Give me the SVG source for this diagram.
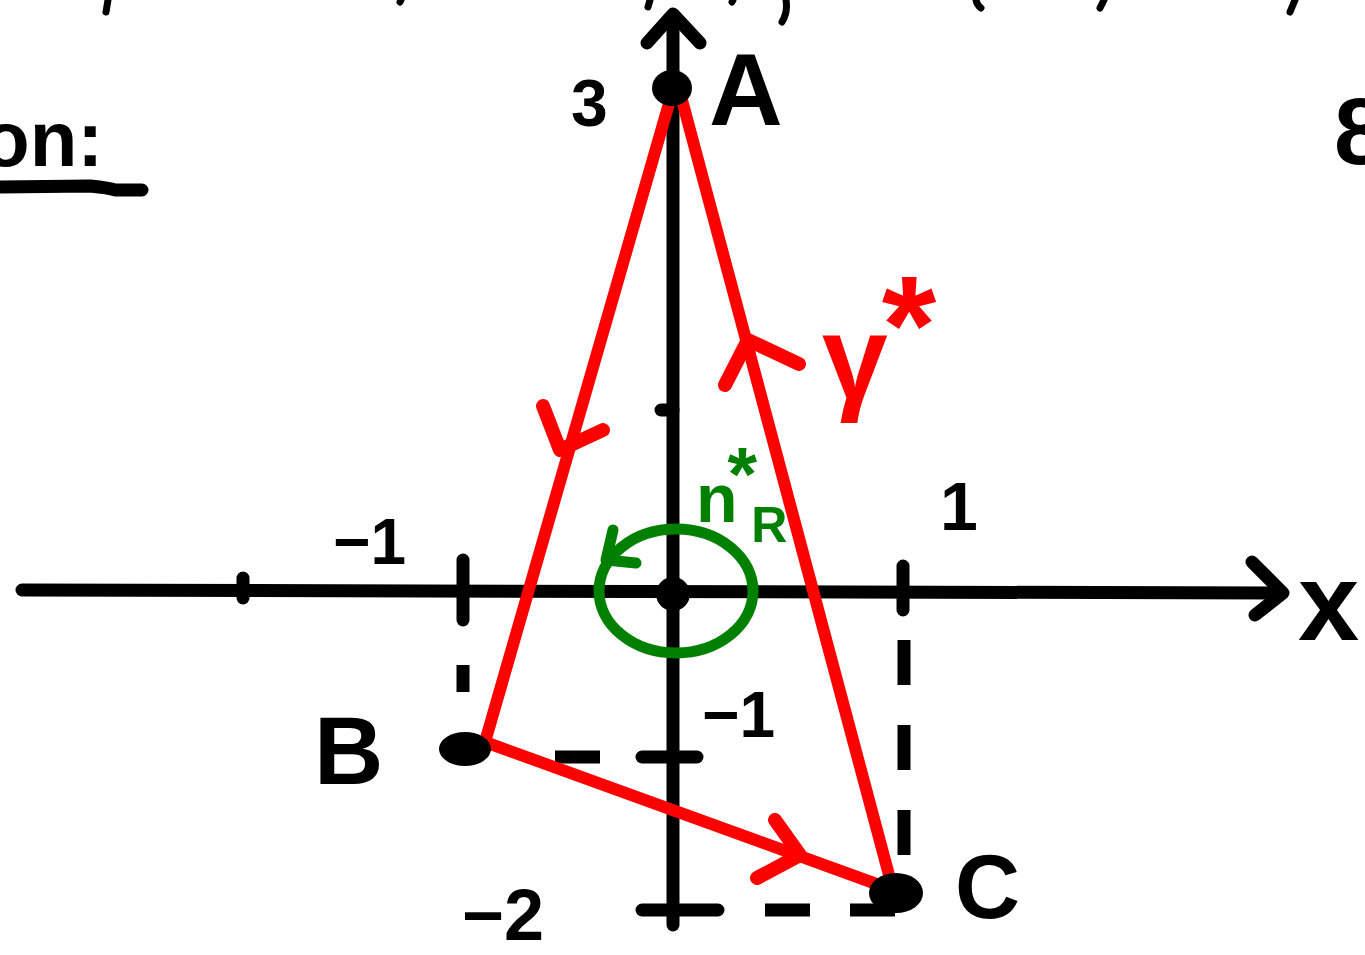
<svg xmlns="http://www.w3.org/2000/svg" width="1365" height="955" viewBox="0 0 1365 955">
<style>
.ax{stroke:#000;stroke-width:13;stroke-linecap:round;stroke-linejoin:round;fill:none}
.frag{stroke:#000;stroke-width:7;stroke-linecap:round;fill:none}
.dash{stroke:#000;stroke-width:13;fill:none;stroke-dasharray:45 40}
.red{stroke:#f00;stroke-width:12;stroke-linecap:round;stroke-linejoin:round;fill:none}
.arr{stroke:#f00;stroke-width:14;stroke-linecap:round;stroke-linejoin:round;fill:none}
.grn{stroke:#008000;stroke-width:11;stroke-linecap:round;stroke-linejoin:round;fill:none}
.t{font-family:"Liberation Sans","DejaVu Sans",sans-serif;font-weight:bold;fill:#000}
.tr{font-family:"Liberation Sans","DejaVu Sans",sans-serif;font-weight:bold;fill:#f00}
.tg{font-family:"Liberation Sans","DejaVu Sans",sans-serif;font-weight:bold;fill:#008000}
</style>
<rect width="1365" height="955" fill="#fff"/>
<g id="top-fragments">
<path class="frag" d="M108 0 L106 12"/>
<path class="frag" d="M401 0 L400 2"/>
<path class="frag" d="M650 0 L648 7"/>
<path class="frag" d="M733 0 L732 2"/>
<path class="frag" d="M786 0 Q788 12 782 22"/>
<path class="frag" d="M976 0 Q977 5 981 8"/>
<path class="frag" d="M1104 0 L1100 8"/>
<path class="frag" d="M1295 0 L1290 12"/>
</g>
<g id="axes">
<path class="ax" d="M22 590 L1280 593"/>
<path class="ax" d="M1252 562 L1283 593 L1255 615"/>
<path class="ax" d="M673 925 L673 25"/>
<path class="ax" d="M647 43 L673 14 L700 43"/>
<path class="ax" d="M243 578 L243 598"/>
<path class="ax" d="M463 560 L463 620"/>
<path class="ax" d="M903 566 L903 610"/>
<path class="ax" d="M661 410 L673 410"/>
<path class="ax" d="M642 757 L697 757"/>
<path class="ax" d="M642 910 L718 910"/>
</g>
<g id="dashed">
<path class="dash" d="M463 665 L463 692"/>
<path class="dash" d="M555 757 L640 757"/>
<path class="dash" d="M904 640 L904 885" stroke-dasharray="55 20 105 30"/>
<path class="dash" d="M765 910 L895 910"/>
</g>
<g id="triangle">
<path class="red" d="M670 100 L485 742 L893 890 L682 100"/>
<path class="arr" d="M543 406 L560 450 L603 430"/>
<path class="arr" d="M725 385 L748 340 L799 364"/>
<path class="arr" d="M775 820 L800 855 L757 878"/>
</g>
<g id="points">
<ellipse cx="672" cy="88" rx="20" ry="18" fill="#000"/>
<ellipse cx="465" cy="749" rx="26" ry="17" fill="#000"/>
<ellipse cx="896" cy="893" rx="27" ry="20" fill="#000"/>
<circle cx="673" cy="594" r="17" fill="#000"/>
</g>
<g id="orientation">
<ellipse class="grn" cx="676" cy="591" rx="77" ry="62"/>
<path class="grn" d="M613 530 L606 560 L636 563"/>
</g>
<g id="labels">
<text class="t" x="571" y="126" font-size="66">3</text>
<text class="t" x="709" y="125" font-size="102">A</text>
<text class="t" x="314" y="784" font-size="96">B</text>
<text class="t" x="955" y="918" font-size="90">C</text>
<text class="t" x="333" y="564" font-size="64">−1</text>
<text class="t" x="940" y="530" font-size="68">1</text>
<text class="t" x="702" y="737" font-size="64">−1</text>
<text class="t" x="462" y="940" font-size="72">−2</text>
<text class="t" x="1298" y="640" font-size="110">x</text>
<text class="t" x="-18" y="166" font-size="78">on:</text>
<path class="ax" d="M0 187 L90 186 Q110 188 115 190 L142 190"/>
<text class="t" x="1334" y="164" font-size="95">8</text>
</g>
<g id="gamma-label">
<text class="tr" x="822" y="398" font-size="118">γ<tspan dx="-6" dy="-25" font-size="140">*</tspan></text>
</g>
<g id="normal-label">
<text class="tg" x="696" y="522" font-size="68">n<tspan dx="-10" dy="-22" font-size="76">*</tspan><tspan dx="-6" dy="42" font-size="50">R</tspan></text>
</g>
</svg>
